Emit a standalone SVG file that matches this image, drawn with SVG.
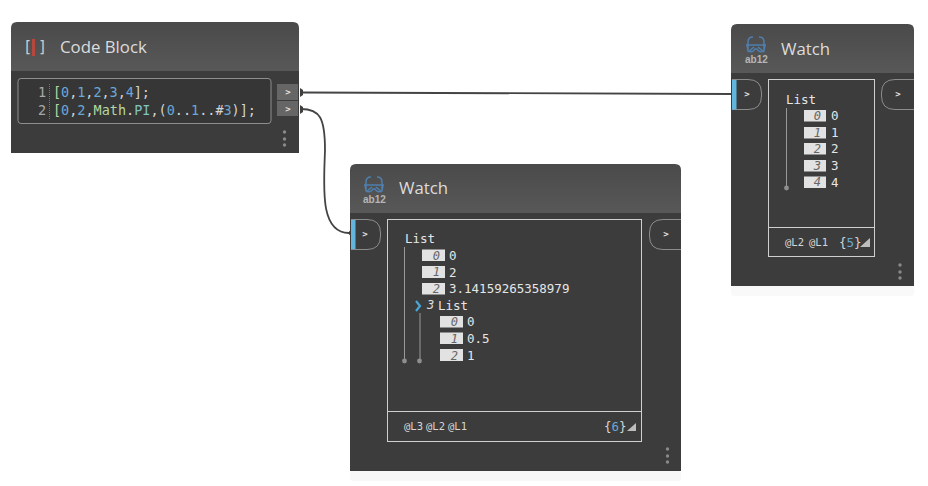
<svg xmlns="http://www.w3.org/2000/svg" width="928" height="486" viewBox="0 0 928 486">
<style>
.body{fill:#3c3c3c}
.title{font:16.8px "Open Sans","Noto Sans",sans-serif;fill:#dcdcdc}
.mono{font-family:"DejaVu Sans Mono","Liberation Mono",monospace}
.code{font-size:13.5px;fill:#d4d4d4}
.ln{font-size:13.5px;fill:#a8a8a8}
.blue{fill:#6aa8d6}
.green{fill:#b5d6a0}
.teal{fill:#7fc4c0}
.val{font-size:12.5px;fill:#e6e6e6}
.idx{fill:#e2e2e2}
.idxt{font-size:12px;font-style:italic;fill:#666;text-anchor:end}
.lvl{font-size:10.5px;fill:#d6d6d6}
.box{fill:none;stroke:#cfcfcf;stroke-width:1}
.tree{stroke:#999;stroke-width:1;fill:none}
.dot{fill:#8f8f8f}
.grip{fill:#8a8a8a}
.portg{fill:#666}
.chev{font-size:9px;font-weight:bold;fill:#e4e4e4;text-anchor:middle}
.wire{fill:none;stroke:#444;stroke-width:1.800}
.cap{fill:#3f3f3f}
.pt{fill:none;stroke:#8c8c8c;stroke-width:1}
.in{fill:#62b5dc}
.ic{fill:none;stroke:#4f7fae;stroke-width:1.500}
.ict{font:bold 10px "Liberation Sans",sans-serif;fill:#b5b5b5}
</style>
<defs>
<linearGradient id="hd" x1="0" y1="0" x2="0" y2="1"><stop offset="0" stop-color="#4a4a4a"/><stop offset="1" stop-color="#585858"/></linearGradient>
<g id="wicon">
<path class="ic" d="M3 14 V6 Q3 1 8 1 M19 14 V6 Q19 1 14 1 M1 9 H21 M2 9 L3 15 Q8 17 10 13 H12 Q14 17 19 15 L20 9 M3 16 L9 11 M19 16 L13 11"/>
<text class="ict" x="0" y="27">ab12</text>
</g>
</defs>
<g id="connectors">
<path class="wire" d="M301 92.500 L731 94"/>
<path class="wire" d="M301 109 C320 109 325 118 325 150 C324 185 319 233 349 233"/>
<path class="cap" d="M300 88 L303 90 V95 L300 97Z M300 105 L303 107 V112 L300 114Z M352 228 L348 233 L352 238Z M735 89 L730 94 L735 99Z"/>
</g>
<g id="code-block">
<path class="body" d="M11 153 V71 H299 V153Z"/>
<path fill="url(#hd)" d="M11 71 V28 Q11 22 17 22 H293 Q299 22 299 28 V71Z"/>
<text class="mono" x="23" y="52" font-size="15" fill="#ccc">[</text>
<rect x="32" y="39" width="3" height="17" fill="#b5473f"/>
<text class="mono" x="38" y="52" font-size="15" fill="#ccc">]</text>
<text class="title" x="60" y="53">Code Block</text>
<rect x="18" y="78.500" width="253" height="45" rx="3" fill="#363636" stroke="#8e8e8e"/>
<path d="M49.500 84 V120" stroke="#777" stroke-dasharray="1 1" fill="none"/>
<text class="mono ln" x="38" y="97">1</text>
<text class="mono ln" x="38" y="115">2</text>
<text class="mono code" x="53" y="97" textLength="97"><tspan class="green">[</tspan><tspan class="blue">0</tspan>,<tspan class="blue">1</tspan>,<tspan class="blue">2</tspan>,<tspan class="blue">3</tspan>,<tspan class="blue">4</tspan>];</text>
<text class="mono code" x="53" y="115" textLength="203"><tspan class="green">[</tspan><tspan class="blue">0</tspan>,<tspan class="blue">2</tspan>,<tspan class="green">Math</tspan>.<tspan class="teal">PI</tspan>,(<tspan class="blue">0</tspan>..<tspan class="blue">1</tspan>..#<tspan class="blue">3</tspan>)];</text>
<rect class="portg" x="277" y="84" width="21" height="16"/>
<rect class="portg" x="277" y="101" width="21" height="15"/>
<text class="mono chev" x="288" y="95">&gt;</text>
<text class="mono chev" x="288" y="112">&gt;</text>
<circle class="grip" cx="284.500" cy="132" r="1.700"/><circle class="grip" cx="284.500" cy="139" r="1.700"/><circle class="grip" cx="284.500" cy="145" r="1.700"/>
</g>
<g id="watch-list">
<rect x="350" y="471" width="331" height="10" rx="3" fill="#f8f8f8"/>
<path class="body" d="M350 471 V213 H681 V471Z"/>
<path fill="url(#hd)" d="M350 213 V170 Q350 164 356 164 H675 Q681 164 681 170 V213Z"/>
<use href="#wicon" x="363" y="176"/>
<text class="title" x="399" y="194">Watch</text>
<path class="pt" d="M351 219.500 H367 Q380.500 219.500 380.500 233 V236 Q380.500 249.500 367 249.500 H351"/>
<rect class="in" x="351" y="220" width="4.500" height="29"/>
<text class="mono chev" x="365" y="237">&gt;</text>
<path class="pt" d="M681 219.500 H663 Q649.500 219.500 649.500 233 V236 Q649.500 249.500 663 249.500 H681"/>
<text class="mono chev" x="666" y="237">&gt;</text>
<rect class="box" x="387.500" y="219.500" width="254" height="222"/>
<path class="box" d="M387.500 411.500 H641.500"/>
<text class="mono val" x="405" y="243">List</text>
<path class="tree" d="M404.500 247 V361 M420 313 V361"/>
<circle class="dot" cx="404.500" cy="361" r="2.400"/><circle class="dot" cx="419.500" cy="361" r="2.400"/>
<rect class="idx" x="422" y="249.500" width="23" height="11.500"/><rect class="idx" x="422" y="266" width="23" height="12"/><rect class="idx" x="422" y="283" width="23" height="11.500"/>
<text class="mono idxt" x="440" y="259.500">0</text><text class="mono idxt" x="440" y="276">1</text><text class="mono idxt" x="440" y="293">2</text>
<text class="mono val" x="449" y="260">0</text><text class="mono val" x="449" y="277">2</text><text class="mono val" x="449" y="293">3.14159265358979</text>
<path d="M416 301 L420 306 L416 311" fill="none" stroke="#4aa6d4" stroke-width="2.200"/>
<text class="mono" x="427" y="309" font-size="12" font-style="italic" fill="#ddd">3</text>
<text class="mono val" x="438" y="310">List</text>
<rect class="idx" x="440" y="316" width="23" height="11.500"/><rect class="idx" x="440" y="332.500" width="23" height="11.500"/><rect class="idx" x="440" y="349" width="23" height="12"/>
<text class="mono idxt" x="458" y="326">0</text><text class="mono idxt" x="458" y="343">1</text><text class="mono idxt" x="458" y="360">2</text>
<text class="mono val" x="467" y="326">0</text><text class="mono val" x="467" y="343">0.5</text><text class="mono val" x="467" y="360">1</text>
<text class="mono lvl" x="404" y="430">@L3</text><text class="mono lvl" x="426" y="430">@L2</text><text class="mono lvl" x="448" y="430">@L1</text>
<text class="mono" x="604" y="431" font-size="12.500" fill="#d6d6d6">{<tspan class="blue">6</tspan>}</text>
<path d="M627 431 L636 431 L636 423Z" fill="#bdbdbd"/>
<circle class="grip" cx="667.500" cy="449" r="1.700"/><circle class="grip" cx="667.500" cy="456" r="1.700"/><circle class="grip" cx="667.500" cy="462" r="1.700"/>
</g>
<g id="watch-flat">
<rect x="731" y="286" width="183" height="10" rx="3" fill="#f9f9f9"/>
<path class="body" d="M731 286 V73 H914 V286Z"/>
<path fill="url(#hd)" d="M731 73 V30 Q731 24 737 24 H908 Q914 24 914 30 V73Z"/>
<use href="#wicon" x="745" y="36"/>
<text class="title" x="781" y="55">Watch</text>
<path class="pt" d="M732 79.500 H748 Q761.500 79.500 761.500 93 V96 Q761.500 109.500 748 109.500 H732"/>
<rect class="in" x="732" y="80" width="4.500" height="29.500"/>
<text class="mono chev" x="747" y="97">&gt;</text>
<path class="pt" d="M914 79.500 H895 Q881.500 79.500 881.500 93 V96 Q881.500 109.500 895 109.500 H914"/>
<text class="mono chev" x="898" y="97">&gt;</text>
<rect class="box" x="768.500" y="79.500" width="106" height="177"/>
<path class="box" d="M768.500 227.500 H874.500"/>
<text class="mono val" x="786" y="104">List</text>
<path class="tree" d="M786.500 108 V188"/>
<circle class="dot" cx="786.500" cy="188" r="2.400"/>
<rect class="idx" x="804" y="110" width="22" height="11.500"/><rect class="idx" x="804" y="127" width="22" height="11.500"/><rect class="idx" x="804" y="143" width="22" height="11.500"/><rect class="idx" x="804" y="160" width="22" height="11.500"/><rect class="idx" x="804" y="176.500" width="22" height="11.500"/>
<text class="mono idxt" x="821" y="120">0</text><text class="mono idxt" x="821" y="137">1</text><text class="mono idxt" x="821" y="153">2</text><text class="mono idxt" x="821" y="170">3</text><text class="mono idxt" x="821" y="186">4</text>
<text class="mono val" x="831" y="120">0</text><text class="mono val" x="831" y="137">1</text><text class="mono val" x="831" y="153">2</text><text class="mono val" x="831" y="170">3</text><text class="mono val" x="831" y="187">4</text>
<text class="mono lvl" x="785" y="246">@L2</text><text class="mono lvl" x="809" y="246">@L1</text>
<text class="mono" x="839" y="247" font-size="12.500" fill="#d6d6d6">{<tspan class="blue">5</tspan>}</text>
<path d="M860 247 L870 247 L870 238Z" fill="#bdbdbd"/>
<circle class="grip" cx="900" cy="265" r="1.700"/><circle class="grip" cx="900" cy="272" r="1.700"/><circle class="grip" cx="900" cy="278" r="1.700"/>
</g>
</svg>
